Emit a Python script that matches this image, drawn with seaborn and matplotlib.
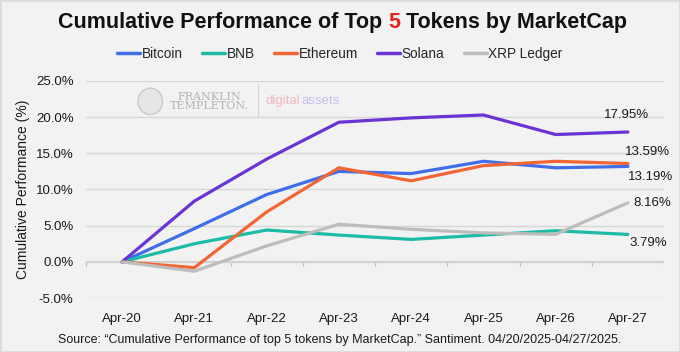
import pandas as pd
import matplotlib.pyplot as plt
from matplotlib.patches import Ellipse
import seaborn as sns

# Chart data
dates = ['Apr-20', 'Apr-21', 'Apr-22', 'Apr-23', 'Apr-24', 'Apr-25', 'Apr-26', 'Apr-27']
bitcoin = [0.0, 4.6, 9.3, 12.5, 12.2, 13.9, 13.0, 13.19]
bnb = [0.0, 2.5, 4.4, 3.7, 3.1, 3.7, 4.3, 3.79]
ethereum = [0.0, -0.8, 6.9, 13.0, 11.2, 13.3, 13.9, 13.59]
solana = [0.0, 8.4, 14.2, 19.3, 19.9, 20.3, 17.6, 17.95]
xrp = [0.0, -1.3, 2.2, 5.2, 4.5, 4.0, 3.8, 8.16]

series = {'Bitcoin': bitcoin, 'BNB': bnb, 'Ethereum': ethereum,
          'Solana': solana, 'XRP Ledger': xrp}
colors = {'Bitcoin': '#3f6ee8', 'BNB': '#1bbba6', 'Ethereum': '#f26535',
          'Solana': '#6a34d4', 'XRP Ledger': '#bdbdbd'}

# Long format for seaborn.
df = pd.concat([pd.DataFrame({'date': dates, 'value': v, 'token': k})
                for k, v in series.items()], ignore_index=True)

sns.set_style('white')
plt.rcParams['font.family'] = ['Liberation Sans', 'DejaVu Sans']

bg = '#f2f2f2'
fig = plt.figure(figsize=(6.8, 3.52), dpi=100, facecolor=bg)
ax = fig.add_axes([0.1265, 0.1534, 0.85, 0.6165])
ax.set_facecolor(bg)

sns.lineplot(data=df, x='date', y='value', hue='token', palette=colors,
             sort=False, linewidth=2.3, ax=ax, legend=False)

ax.set_xlim(-0.5, len(dates) - 0.5)
ax.set_ylim(-5, 25)
ax.set_yticks(range(-5, 26, 5))
ax.set_yticklabels([f'{t:.1f}%' for t in range(-5, 26, 5)])
ax.set_xticks(range(len(dates)))
ax.set_xticklabels(dates)
ax.tick_params(axis='both', length=0, labelsize=9.5, colors='#1a1a1a')
ax.tick_params(axis='x', pad=11)
ax.tick_params(axis='y', pad=9)
ax.set_xlabel('')
ax.set_ylabel('Cumulative Performance (%)', fontsize=10, color='#1a1a1a', labelpad=4)
for s in ax.spines.values():
    s.set_visible(False)
ax.grid(axis='y', color='#d6d6d6', linewidth=1)
ax.set_axisbelow(True)

# zero axis line with category boundary ticks
ax.axhline(0, color='#c4c4c4', linewidth=1.2, zorder=0.5)
for i in range(len(dates) + 1):
    ax.plot([i - 0.5, i - 0.5], [0, -0.6], color='#c4c4c4', linewidth=1, zorder=0.5)

# end-point value labels (offsets in pixels, y up)
offsets = {'Solana': (-1, 17), 'Ethereum': (20, 12), 'Bitcoin': (23, -11),
           'XRP Ledger': (24, 0), 'BNB': (20, -9)}
for k, v in series.items():
    dx, dy = offsets[k]
    ax.annotate(f'{v[-1]:.2f}%', xy=(len(dates) - 1, v[-1]), xytext=(dx, dy),
                textcoords='offset pixels', ha='center', va='center',
                fontsize=9.5, color='#1a1a1a')

# legend
handles = [plt.Line2D([], [], color=colors[k], linewidth=2.5) for k in series]
fig.legend(handles, list(series), loc='center', bbox_to_anchor=(0.5, 0.847), ncol=5,
           frameon=False, fontsize=9.8, handlelength=1.7, handletextpad=0.12,
           columnspacing=1.4)

# title with red "5"
ty = 0.937
fs = 15.5
first = fig.text(0.085, ty, 'Cumulative Performance of Top ', fontsize=fs, fontweight='bold',
                 ha='left', va='center', color='#111111')
fig.canvas.draw()
r = fig.canvas.get_renderer()
x5 = first.get_window_extent(r).x1 / fig.bbox.width
five = fig.text(x5, ty, '5', fontsize=fs, fontweight='bold', ha='left',
                va='center', color='#e8231f')
fig.canvas.draw()
x_rest = five.get_window_extent(r).x1 / fig.bbox.width
fig.text(x_rest, ty, ' Tokens by MarketCap', fontsize=fs, fontweight='bold',
         ha='left', va='center', color='#111111')

# watermark
fig.add_artist(Ellipse((0.221, 0.712), 0.036, 0.075, transform=fig.transFigure,
                       facecolor='#e6e6e6', edgecolor='#c8c8c8', linewidth=1))
fig.text(0.308, 0.712, 'FRANKLIN\nTEMPLETON.', fontsize=8, family='DejaVu Serif',
         color='#b3b3b3', ha='center', va='center', linespacing=0.95)
fig.add_artist(plt.Line2D([0.379, 0.379], [0.67, 0.76], color='#d4d4d4', linewidth=0.8))
fig.text(0.390, 0.712, 'digital', fontsize=9.5, color='#f3b6c4', ha='left', va='center')
fig.text(0.443, 0.712, 'assets', fontsize=9.5, color='#c4c0ee', ha='left', va='center')

# source
fig.text(0.5, 0.034, 'Source: \u201cCumulative Performance of top 5 tokens by MarketCap.\u201d '
         'Santiment. 04/20/2025-04/27/2025.', fontsize=9, ha='center', va='center',
         color='#1a1a1a')

fig.add_artist(plt.Rectangle((0, 0), 1, 1, transform=fig.transFigure, fill=False,
                             edgecolor='#dcdcdc', linewidth=2))

fig.savefig('out.png', dpi=100, facecolor=bg)
